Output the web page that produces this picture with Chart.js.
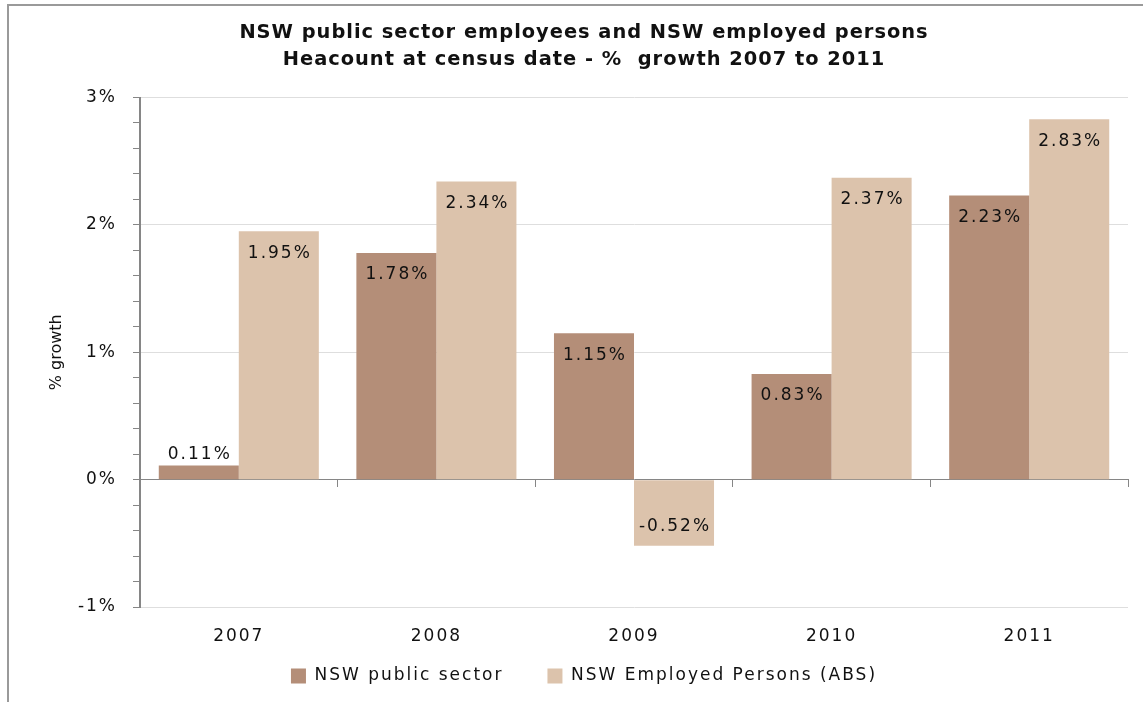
<!DOCTYPE html>
<html>
<head>
<meta charset="utf-8">
<title>NSW public sector growth</title>
<script src="https://cdn.jsdelivr.net/npm/chart.js@4.4.1/dist/chart.umd.min.js"></script>
<style>
  html, body { margin: 0; padding: 0; background: #fff; overflow: hidden; }
  #frame {
    position: absolute; left: 7px; top: 4px; width: 1200px; height: 760px;
    border-left: 2px solid #9a9a9a; border-top: 2px solid #9a9a9a;
  }
  #wrap { position: absolute; left: 0; top: 0; width: 1143px; height: 702px; }
</style>
</head>
<body>
<div id="frame"></div>
<div id="wrap"><canvas id="growthChart"></canvas></div>
<script>
// ── Data ─────────────────────────────────────────────────────────────────────
const YEARS         = ['2007', '2008', '2009', '2010', '2011'];
const PUBLIC_SECTOR = [0.11, 1.78, 1.15, 0.83, 2.23];
const EMPLOYED_ABS  = [1.95, 2.34, -0.52, 2.37, 2.83];
const SERIES_NAMES  = ['NSW public sector', 'NSW Employed Persons (ABS)'];
const TITLE_LINES   = ['NSW public sector employees and NSW employed persons',
                       'Heacount at census date - %  growth 2007 to 2011'];

// ── Colours ──────────────────────────────────────────────────────────────────
const C = {
  public:   '#b48e78',
  employed: '#dcc3ac',
  axis:     '#868686',
  grid:     '#dedede',
  text:     '#111111',
};

const FONT = '"DejaVu Sans"';
const WIDE = '2px';
const isWhole = v => Math.abs(v - Math.round(v)) < 1e-6;

// run a draw function with a different letter spacing, then restore
function withSpacing(ctx, sp, fn) {
  ctx.letterSpacing = sp;
  fn();
  ctx.letterSpacing = WIDE;
}

// ── Wider letter spacing, like the Excel rendering (titles kept tighter) ────
const spacing = {
  id: 'spacing',
  beforeUpdate(chart) { chart.ctx.letterSpacing = WIDE; },
  afterLayout(chart) {
    const t = chart.titleBlock;
    if (t && !t._tight) {
      const orig = t.draw.bind(t);
      t.draw = area => withSpacing(chart.ctx, '1px', () => orig(area));
      t._tight = true;
    }
    const y = chart.scales.y;
    if (y && !y._tight) {
      const origTitle = y.drawTitle.bind(y);
      y.drawTitle = () => withSpacing(chart.ctx, '0px', origTitle);
      y._tight = true;
    }
  },
  beforeDraw(chart) { chart.ctx.letterSpacing = WIDE; },
};

// ── Value labels drawn from the bar elements ────────────────────────────────
const barLabels = {
  id: 'barLabels',
  afterDatasetsDraw(chart) {
    const ctx = chart.ctx;
    ctx.save();
    ctx.font = '17px ' + FONT;
    ctx.fillStyle = C.text;
    ctx.textAlign = 'center';
    ctx.textBaseline = 'middle';
    chart.data.datasets.forEach((ds, i) => {
      chart.getDatasetMeta(i).data.forEach((bar, j) => {
        const v = ds.data[j];
        const txt = v.toFixed(2) + '%';
        const h = Math.abs(bar.base - bar.y);
        let y;
        if (v >= 0) y = h < 30 ? bar.y - 11 : bar.y + 22;
        else y = bar.y - 19;
        ctx.fillText(txt, bar.x + 1, y);
      });
    });
    ctx.restore();
  }
};

new Chart(document.getElementById('growthChart'), {
  type: 'bar',
  data: {
    labels: YEARS,
    datasets: [
      { label: SERIES_NAMES[0], data: PUBLIC_SECTOR, backgroundColor: C.public,
        borderWidth: 0, barPercentage: 1.0, categoryPercentage: 0.81, xAxisID: 'x' },
      { label: SERIES_NAMES[1], data: EMPLOYED_ABS, backgroundColor: C.employed,
        borderWidth: 0, barPercentage: 1.0, categoryPercentage: 0.81, xAxisID: 'x' },
    ],
  },
  plugins: [spacing, barLabels],
  options: {
    responsive: true,
    maintainAspectRatio: false,
    animation: false,
    layout: { padding: { left: 40, right: 15, top: 0, bottom: 7.5 } },
    plugins: {
      title: {
        display: true,
        text: TITLE_LINES,
        color: C.text,
        font: { family: FONT, size: 19.4, weight: 'bold', lineHeight: 1.392 },
        padding: { top: 19.5, bottom: 24 },
      },
      legend: {
        position: 'bottom',
        labels: {
          boxWidth: 15, boxHeight: 15, padding: 44,
          color: C.text,
          font: { family: FONT, size: 17 },
        },
      },
      tooltip: { enabled: false },
    },
    scales: {
      // bar axis: no marks, only keeps a little room above the legend
      x: {
        position: 'bottom',
        grid: { display: false },
        border: { display: false },
        ticks: { display: false },
        afterFit: s => { s.height = 16.5; },
      },
      // year labels under the plot
      xl: {
        type: 'category',
        labels: YEARS,
        position: { y: -1 },
        grid: { display: false, drawTicks: false },
        border: { display: false },
        ticks: { color: C.text, padding: 19, font: { family: FONT, size: 17 } },
      },
      // zero line with category tick marks
      x0: {
        type: 'category',
        labels: YEARS,
        position: { y: 0 },
        grid: { offset: true, drawOnChartArea: false, drawTicks: true, tickLength: 7, color: C.axis },
        border: { display: true, color: C.axis, width: 1 },
        ticks: { display: false },
      },
      y: {
        min: -1,
        max: 3,
        ticks: {
          stepSize: 0.2,
          color: C.text,
          padding: 16,
          font: { family: FONT, size: 17 },
          callback: v => isWhole(v) ? Math.round(v) + '%' : '',
        },
        grid: {
          color: c => (c.tick && isWhole(c.tick.value) && Math.round(c.tick.value) !== 0) ? C.grid : 'rgba(0,0,0,0)',
          tickColor: C.axis,
          tickLength: 7,
        },
        border: { display: true, color: C.axis, width: 2 },
        title: {
          display: true,
          text: '% growth',
          color: C.text,
          padding: { top: 7, bottom: 0 },
          font: { family: FONT, size: 16 },
        },
        afterFit: s => { s.width = 100; },
      },
    },
  },
});
</script>
</body>
</html>
